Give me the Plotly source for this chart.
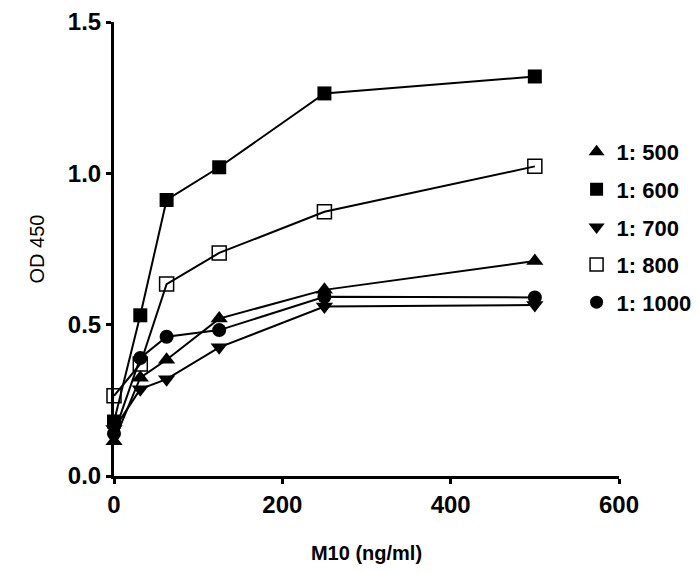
import plotly.graph_objects as go

conc = [0, 31.25, 62.5, 125, 250, 500]
series_names = ["1: 500", "1: 600", "1: 700", "1: 800", "1: 1000"]
od_500 = [0.115, 0.325, 0.384, 0.52, 0.615, 0.71]
od_600 = [0.18, 0.531, 0.912, 1.02, 1.264, 1.32]
od_700 = [0.155, 0.287, 0.32, 0.425, 0.56, 0.565]
od_800 = [0.265, 0.37, 0.634, 0.737, 0.873, 1.023]
od_1000 = [0.14, 0.39, 0.46, 0.482, 0.592, 0.59]
x_ticks = [0, 200, 400, 600]
y_ticks = [0.0, 0.5, 1.0, 1.5]
y_tick_labels = ["0.0", "0.5", "1.0", "1.5"]

values = [od_500, od_600, od_700, od_800, od_1000]
symbols = ["triangle-up", "square", "triangle-down", "square-open", "circle"]
sizes = [15, 14, 15, 14, 14]

fig = go.Figure()
for name, ys, sym, sz in zip(series_names, values, symbols, sizes):
    fig.add_trace(go.Scatter(
        x=conc, y=ys, mode="lines+markers", name=name, showlegend=False,
        line=dict(color="black", width=2),
        marker=dict(symbol=sym, size=sz, color="black",
                    line=dict(color="black", width=1.5 if "open" in sym else 0)),
        cliponaxis=False,
    ))
for name, sym, sz in zip(series_names, symbols, sizes):
    fig.add_trace(go.Scatter(
        x=[None], y=[None], mode="markers", name=name, legendgroup=name,
        marker=dict(symbol=sym, size=sz - 1, color="black",
                    line=dict(color="black", width=1.5 if "open" in sym else 0)),
    ))

font_family = "Liberation Sans, Arial, sans-serif"
fig.update_layout(
    template="none",
    width=699, height=572,
    margin=dict(l=106, r=88, t=14, b=104, autoexpand=False),
    paper_bgcolor="white", plot_bgcolor="white",
    font=dict(family=font_family, color="black"),
    legend=dict(x=0.916, y=0.76, xanchor="left", yanchor="top",
                font=dict(size=22, family=font_family, color="black", weight="bold"),
                tracegroupgap=6, itemwidth=30, bgcolor="rgba(0,0,0,0)", borderwidth=0),
    xaxis=dict(range=[0, 600], tickvals=x_ticks, showgrid=False, zeroline=False,
               automargin=False,
               showline=True, linecolor="black", linewidth=3,
               ticks="outside", ticklen=5, tickwidth=3, tickcolor="black",
               ticklabeloverflow="allow",
               tickfont=dict(size=24, weight="bold"),
               title=dict(text="M10 (ng/ml)", font=dict(size=20, weight="bold"), standoff=30)),
    yaxis=dict(range=[0, 1.5], tickvals=y_ticks, ticktext=y_tick_labels, showgrid=False,
               automargin=False,
               zeroline=False, showline=True, linecolor="black", linewidth=3,
               ticks="outside", ticklen=5, tickwidth=3, tickcolor="black",
               ticklabeloverflow="allow",
               tickfont=dict(size=24, weight="bold"),
               title=dict(text="OD 450", font=dict(size=20), standoff=18)),
)

fig.write_html("out.html")
